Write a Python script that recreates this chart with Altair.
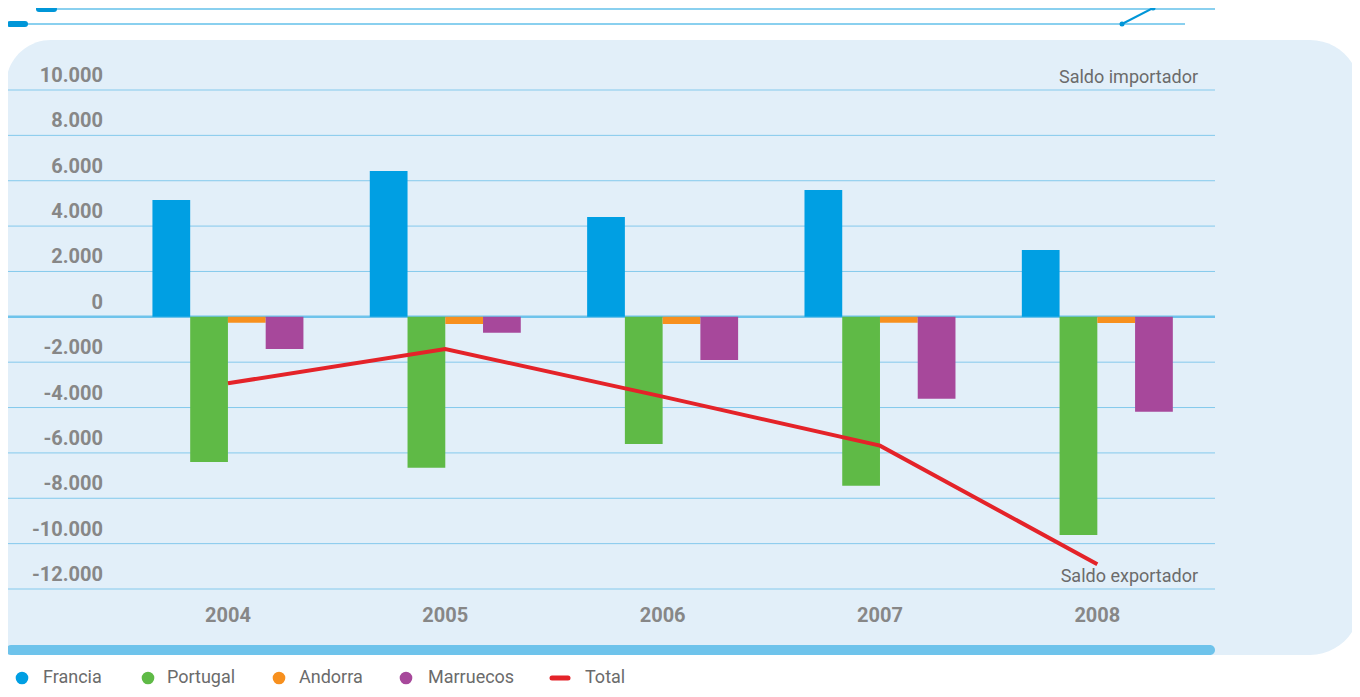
import altair as alt
import pandas as pd

# ---- data ----
years = ["2004", "2005", "2006", "2007", "2008"]
series = ["Francia", "Portugal", "Andorra", "Marruecos"]
francia = [5150, 6430, 4400, 5590, 2950]
portugal = [-6400, -6650, -5610, -7450, -9620]
andorra = [-260, -320, -320, -260, -275]
marruecos = [-1420, -700, -1900, -3610, -4180]
total = [-2930, -1420, -3520, -5680, -10910]
y_ticks = [10000, 8000, 6000, 4000, 2000, 0, -2000, -4000, -6000, -8000, -10000, -12000]
y_tick_labels = ["10.000", "8.000", "6.000", "4.000", "2.000", "0", "-2.000", "-4.000",
                 "-6.000", "-8.000", "-10.000", "-12.000"]

colors = ["#009fe3", "#5fba46", "#f7901e", "#a7489b"]
total_color = "#e42329"
panel_color = "#e2eff9"
grid_color = "#84c9ec"
label_color = "#878787"
text_color = "#6b6b6b"
FONT = "Roboto"

rows = []
for name, vals in zip(series, [francia, portugal, andorra, marruecos]):
    for yr, v in zip(years, vals):
        rows.append({"year": yr, "pais": name, "valor": v})
bars_df = pd.DataFrame(rows)
total_df = pd.DataFrame({"year": years, "total": total})
grid_df = pd.DataFrame({"v": [t for t in y_ticks if t != 0]})
ylab_df = pd.DataFrame({"v": y_ticks, "lab": y_tick_labels})
xlab_df = pd.DataFrame({"year": years})
one = pd.DataFrame({"a": [0]})

W, H = 1207, 499

xscale = alt.Scale(type="band", domain=years, paddingInner=0.3053,
                   paddingOuter=0.4293, align=0.774)
yscale = alt.Scale(domain=[-12000, 10000], nice=False, zero=False)

# ---- decorations ----
panel = alt.Chart(one).mark_rect(
    color=panel_color, cornerRadiusTopLeft=45, cornerRadiusTopRight=50,
    cornerRadiusBottomRight=50
).encode(x=alt.value(-2), x2=alt.value(1352), y=alt.value(-50), y2=alt.value(565))

bottom_bar = alt.Chart(one).mark_rect(color="#6ec3eb", cornerRadius=5).encode(
    x=alt.value(-2), x2=alt.value(1207), y=alt.value(555), y2=alt.value(565))

top_line1 = alt.Chart(one).mark_rule(color="#63c0ea", strokeWidth=1.5).encode(
    x=alt.value(28), x2=alt.value(1207), y=alt.value(-81))
top_line2 = alt.Chart(one).mark_rule(color="#63c0ea", strokeWidth=1.5).encode(
    x=alt.value(-2), x2=alt.value(1177), y=alt.value(-66))
pill1 = alt.Chart(one).mark_rule(color="#0096d8", strokeWidth=6, strokeCap="round").encode(
    x=alt.value(31), x2=alt.value(46), y=alt.value(-81))
pill2 = alt.Chart(one).mark_rule(color="#0096d8", strokeWidth=6, strokeCap="round").encode(
    x=alt.value(2), x2=alt.value(17), y=alt.value(-66))
diag = alt.Chart(one).mark_rule(color="#0096d8", strokeWidth=2).encode(
    x=alt.value(1114), x2=alt.value(1145), y=alt.value(-66), y2=alt.value(-82))
dot1 = alt.Chart(one).mark_point(filled=True, color="#0096d8", size=25, opacity=1).encode(
    x=alt.value(1114), y=alt.value(-66))
dot2 = alt.Chart(one).mark_point(filled=True, color="#0096d8", size=25, opacity=1).encode(
    x=alt.value(1145), y=alt.value(-82))

grid = alt.Chart(grid_df).mark_rule(color=grid_color, strokeWidth=1).encode(
    x=alt.value(-2), x2=alt.value(W),
    y=alt.Y("v:Q", scale=yscale, axis=None))
zero = alt.Chart(one).mark_rule(color="#6ec3eb", strokeWidth=2.5).encode(
    x=alt.value(-2), x2=alt.value(W), y=alt.datum(0, scale=yscale, axis=None))

# ---- bars ----
bars = alt.Chart(bars_df).mark_bar().encode(
    x=alt.X("year:N", scale=xscale, axis=None),
    xOffset=alt.XOffset("pais:N", sort=series,
                        scale=alt.Scale(domain=series, paddingInner=0, paddingOuter=0)),
    y=alt.Y("valor:Q", scale=yscale, axis=None),
    color=alt.Color("pais:N", scale=alt.Scale(domain=series, range=colors), legend=None),
)

line = alt.Chart(total_df).mark_line(color=total_color, strokeWidth=4).encode(
    x=alt.X("year:N", scale=xscale, axis=None),
    y=alt.Y("total:Q", scale=yscale, axis=None),
)

# ---- axis labels as text ----
ylabels = alt.Chart(ylab_df).mark_text(
    align="right", baseline="alphabetic", dy=-8, font=FONT, fontSize=20,
    fontWeight="bold", color=label_color
).encode(x=alt.value(95), y=alt.Y("v:Q", scale=yscale, axis=None), text="lab:N")

xlabels = alt.Chart(xlab_df).mark_text(
    align="center", baseline="middle", font=FONT, fontSize=20,
    fontWeight="bold", color=label_color
).encode(x=alt.X("year:N", scale=xscale, axis=None), y=alt.value(H + 27), text="year:N")

saldo_imp = alt.Chart(one).mark_text(
    text="Saldo importador", align="right", baseline="alphabetic", dy=-7,
    font=FONT, fontSize=18, color=text_color
).encode(x=alt.value(1190), y=alt.datum(10000, scale=yscale, axis=None))
saldo_exp = alt.Chart(one).mark_text(
    text="Saldo exportador", align="right", baseline="alphabetic", dy=-7,
    font=FONT, fontSize=18, color=text_color
).encode(x=alt.value(1190), y=alt.datum(-12000, scale=yscale, axis=None))

# ---- legend ----
legend_circle_x = [14, 140, 271, 398]
legend_text_x = [35, 159, 291, 420]
LY = 588
legend_layers = []
for name, col, cx, tx in zip(series, colors, legend_circle_x, legend_text_x):
    legend_layers.append(alt.Chart(one).mark_point(
        filled=True, shape="circle", size=160, color=col, opacity=1
    ).encode(x=alt.value(cx), y=alt.value(LY)))
    legend_layers.append(alt.Chart(one).mark_text(
        text=name, align="left", baseline="middle", font=FONT, fontSize=18,
        color=text_color
    ).encode(x=alt.value(tx), y=alt.value(LY)))
legend_layers.append(alt.Chart(one).mark_rule(
    color=total_color, strokeWidth=5, strokeCap="round"
).encode(x=alt.value(544), x2=alt.value(560), y=alt.value(LY)))
legend_layers.append(alt.Chart(one).mark_text(
    text="Total", align="left", baseline="middle", font=FONT, fontSize=18,
    color=text_color
).encode(x=alt.value(577), y=alt.value(LY)))

chart = alt.layer(
    panel, bottom_bar, top_line1, top_line2, pill1, pill2, diag, dot1, dot2,
    grid, zero, bars, line, ylabels, xlabels, saldo_imp, saldo_exp, *legend_layers
).properties(
    width=W, height=H,
    padding={"left": 0, "top": 82, "right": 137, "bottom": 98},
    autosize=alt.AutoSizeParams(type="none"),
    background="white",
).configure_view(stroke=None)

chart.save("out.html", embed_options={"renderer": "svg", "actions": False})
